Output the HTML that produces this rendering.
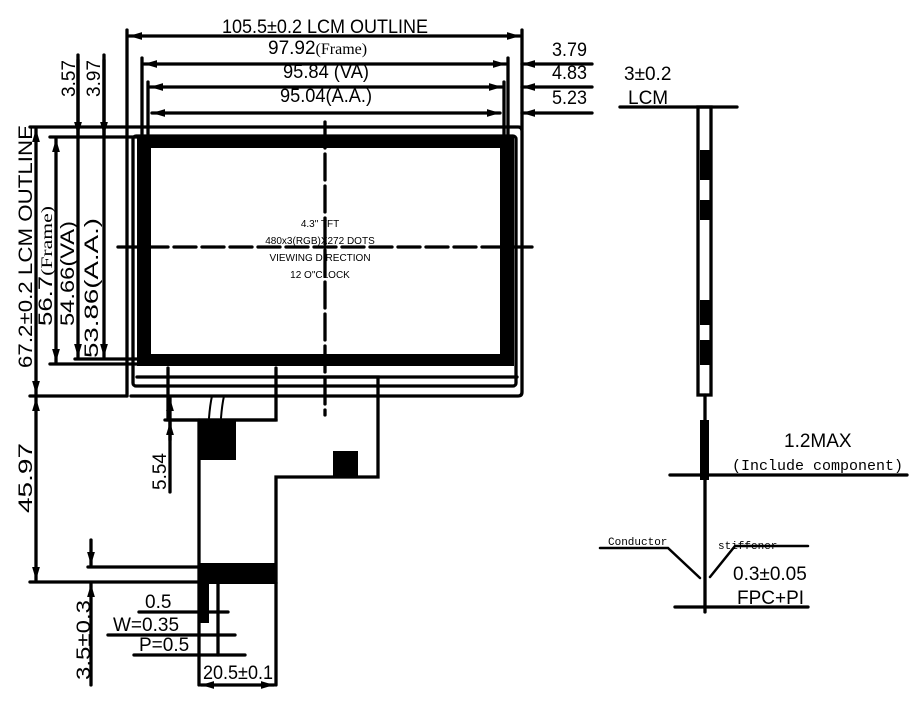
<!DOCTYPE html>
<html><head><meta charset="utf-8"><style>
html,body{margin:0;padding:0;background:#fff;}
svg{display:block;}
text{font-family:"Liberation Sans",Arial,sans-serif;fill:#000;}
.s{font-family:"Liberation Serif",serif;}
.m{font-family:"Liberation Mono",monospace;}
</style></head><body>
<svg width="920" height="710" viewBox="0 0 920 710" xmlns="http://www.w3.org/2000/svg">
<defs>
<marker id="a" viewBox="0 0 10 6" refX="10" refY="3" markerWidth="4" markerHeight="3" orient="auto-start-reverse"><path d="M0,0L10,3L0,6z" fill="#000"/></marker>
</defs>
<g stroke="#000" stroke-width="3.3" fill="none" stroke-linecap="round">
<line x1="127" y1="30" x2="127" y2="396"/>
<line x1="522" y1="30" x2="522" y2="130"/>
<line x1="129" y1="36" x2="520" y2="36" marker-start="url(#a)" marker-end="url(#a)"/>
<line x1="142" y1="58" x2="142" y2="140"/>
<line x1="508" y1="58" x2="508" y2="140"/>
<line x1="144" y1="64" x2="506" y2="64" marker-start="url(#a)" marker-end="url(#a)"/>
<line x1="148" y1="82" x2="148" y2="140"/>
<line x1="504" y1="82" x2="504" y2="140"/>
<line x1="150" y1="87" x2="502" y2="87" marker-start="url(#a)" marker-end="url(#a)"/>
<line x1="152" y1="113" x2="500" y2="113" marker-start="url(#a)" marker-end="url(#a)"/>
<line x1="522" y1="64" x2="592" y2="64" marker-start="url(#a)"/>
<line x1="522" y1="87" x2="592" y2="87" marker-start="url(#a)"/>
<line x1="522" y1="113" x2="592" y2="113" marker-start="url(#a)"/>
<line x1="30" y1="127" x2="127" y2="127"/>
<line x1="50" y1="137" x2="140" y2="137"/>
<line x1="50" y1="364" x2="140" y2="364"/>
<line x1="30" y1="396" x2="127" y2="396"/>
<line x1="36" y1="129" x2="36" y2="394" marker-start="url(#a)" marker-end="url(#a)"/>
<line x1="56" y1="139" x2="56" y2="362" marker-start="url(#a)" marker-end="url(#a)"/>
<line x1="78" y1="55" x2="78" y2="357" marker-end="url(#a)"/>
<line x1="104" y1="55" x2="104" y2="357" marker-end="url(#a)"/>
<line x1="78" y1="60" x2="78" y2="135" marker-end="url(#a)"/>
<line x1="104" y1="60" x2="104" y2="135" marker-end="url(#a)"/>
<line x1="75" y1="359" x2="140" y2="359"/>
<path d="M127 127 H518 Q522 127 522 131 V392 Q522 396 518 396 H131"/>
<rect x="133" y="136" width="383" height="250" rx="3"/>
<line x1="137" y1="377" x2="517" y2="377"/>
<line x1="118" y1="247" x2="536" y2="247" stroke-dasharray="22 6"/>
<line x1="325" y1="122" x2="325" y2="415" stroke-dasharray="26 6"/>
<path d="M168 368 V420 H276 V368"/>
<path d="M276 377 H378 V477 H276 V583"/>
<line x1="199" y1="420" x2="199" y2="685"/>
<line x1="276" y1="583" x2="276" y2="685"/>
<path d="M212 396 Q210 405 209 418 M224 396 Q222 405 221 418" stroke-width="2"/>
<line x1="165" y1="420" x2="276" y2="420"/>
<line x1="170" y1="398" x2="170" y2="492" marker-start="url(#a)"/>
<line x1="170" y1="440" x2="170" y2="422" marker-end="url(#a)"/>
<line x1="30" y1="582" x2="199" y2="582"/>
<line x1="88" y1="567" x2="199" y2="567"/>
<line x1="36" y1="398" x2="36" y2="580" marker-start="url(#a)" marker-end="url(#a)"/>
<line x1="91" y1="540" x2="91" y2="565" marker-end="url(#a)"/>
<line x1="91" y1="685" x2="91" y2="584" marker-end="url(#a)"/>
<line x1="139" y1="612" x2="228" y2="612"/>
<line x1="108" y1="635" x2="235" y2="635"/>
<line x1="134" y1="655" x2="245" y2="655"/>
<line x1="218" y1="583" x2="218" y2="655"/>
<line x1="201" y1="685" x2="274" y2="685" marker-start="url(#a)" marker-end="url(#a)"/>
<line x1="620" y1="107" x2="737" y2="107"/>
<rect x="698" y="107" width="13" height="288"/>
<line x1="705" y1="395" x2="705" y2="612"/>
<line x1="670" y1="475" x2="907" y2="475"/>
<line x1="675" y1="607" x2="808" y2="607"/>
<path d="M600 548 H668 L700 578" stroke-width="2.5"/>
<path d="M808 546 H735 L710 577" stroke-width="2.5"/>
</g>
<g fill="#000">
<path fill-rule="evenodd" d="M137 135 H514 V366 H137 Z M151 148 V354 H500 V148 Z"/>
<rect x="199" y="420" width="37" height="40"/>
<rect x="333" y="451" width="25" height="26"/>
<rect x="199" y="563" width="77" height="21"/>
<rect x="199" y="583" width="10" height="40"/>
<rect x="700" y="150" width="10" height="30"/>
<rect x="700" y="200" width="10" height="20"/>
<rect x="700" y="300" width="10" height="25"/>
<rect x="700" y="340" width="10" height="25"/>
<rect x="700" y="420" width="9" height="60"/>
</g>
<g font-size="19">
<text x="222" y="33" textLength="206" lengthAdjust="spacingAndGlyphs">105.5±0.2 LCM OUTLINE</text>
<text x="268" y="54">97.92<tspan class="s" font-size="16">(Frame)</tspan></text>
<text x="283" y="78" textLength="86" lengthAdjust="spacingAndGlyphs">95.84 (VA)</text>
<text x="280" y="102" textLength="92" lengthAdjust="spacingAndGlyphs">95.04(A.A.)</text>
<text x="552" y="56" textLength="35" lengthAdjust="spacingAndGlyphs">3.79</text>
<text x="552" y="79" textLength="35" lengthAdjust="spacingAndGlyphs">4.83</text>
<text x="552" y="104" textLength="35" lengthAdjust="spacingAndGlyphs">5.23</text>
<text transform="translate(32,368) rotate(-90)" textLength="243" lengthAdjust="spacingAndGlyphs">67.2±0.2 LCM OUTLINE</text>
<text transform="translate(52,326) rotate(-90)" textLength="120" lengthAdjust="spacingAndGlyphs">56.7<tspan class="s" font-size="16">(Frame)</tspan></text>
<text transform="translate(74,326) rotate(-90)" textLength="105" lengthAdjust="spacingAndGlyphs">54.66(VA)</text>
<text transform="translate(98,358) rotate(-90)" textLength="140" lengthAdjust="spacingAndGlyphs">53.86(A.A.)</text>
<text transform="translate(75,97) rotate(-90)">3.57</text>
<text transform="translate(100,97) rotate(-90)">3.97</text>
<text transform="translate(166,490) rotate(-90)">5.54</text>
<text transform="translate(32,513) rotate(-90)" textLength="70" lengthAdjust="spacingAndGlyphs">45.97</text>
<text transform="translate(90,680) rotate(-90)" textLength="80" lengthAdjust="spacingAndGlyphs">3.5±0.3</text>
<text x="145" y="608">0.5</text>
<text x="113" y="631">W=0.35</text>
<text x="139" y="651">P=0.5</text>
<text x="203" y="679" textLength="70" lengthAdjust="spacingAndGlyphs">20.5±0.1</text>
<text x="624" y="80">3±0.2</text>
<text x="628" y="104">LCM</text>
<text x="784" y="447">1.2MAX</text>
<text x="733" y="580">0.3±0.05</text>
<text x="737" y="604">FPC+PI</text>
</g>
<text class="m" x="732" y="470" font-size="15">(Include component)</text>
<text class="m" x="608" y="545" font-size="11">Conductor</text>
<text class="m" x="718" y="549" font-size="11">stiffener</text>
<g class="m" font-size="10" text-anchor="middle">
<text x="320" y="227">4.3" TFT</text>
<text x="320" y="244">480x3(RGB)X272 DOTS</text>
<text x="320" y="261">VIEWING DIRECTION</text>
<text x="320" y="278">12 O"CLOCK</text>
</g>
</svg>
</body></html>
